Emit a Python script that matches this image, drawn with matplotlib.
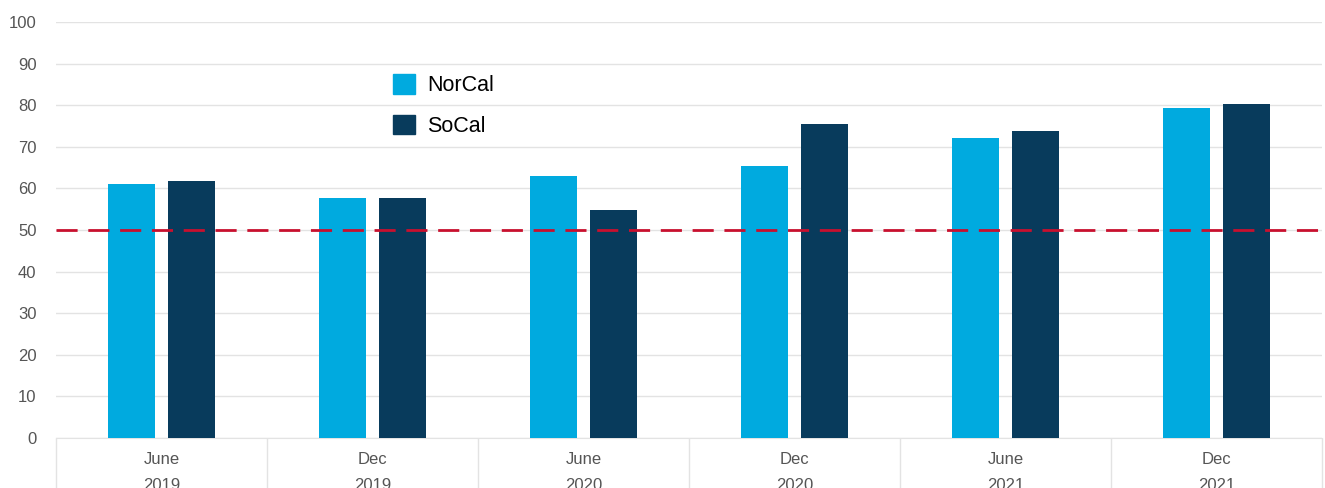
import numpy as np
import matplotlib.pyplot as plt
from matplotlib.patches import Patch

plt.rcParams['font.family'] = ['Liberation Sans', 'DejaVu Sans']

periods = ['June\n2019', 'Dec\n2019', 'June\n2020', 'Dec\n2020', 'June\n2021', 'Dec\n2021']
norcal = [61.1, 57.6, 63.1, 65.5, 72.0, 79.3]
socal = [61.8, 57.8, 54.7, 75.4, 73.7, 80.3]
threshold = 50

col_nor = '#00aadf'
col_so = '#083b5c'
grid_col = '#e3e3e3'
text_col = '#555555'

fig = plt.figure(figsize=(13.25, 4.88), dpi=100)
ax = fig.add_axes([56 / 1325, 1 - 438 / 488, (1322 - 56) / 1325, (438 - 22) / 488])

x = np.arange(len(periods))
w = 0.223
off = 0.143
ax.bar(x - off, norcal, w, color=col_nor, zorder=3)
ax.bar(x + off, socal, w, color=col_so, zorder=3)

# 50 reference line
ax.axhline(threshold, color='#c8102e', lw=2, dashes=(7.6, 3.85), zorder=4)

ax.set_xlim(-0.5, len(periods) - 0.5)
ax.set_ylim(0, 100)
ax.set_yticks(range(0, 101, 10))
ax.yaxis.grid(True, color=grid_col, lw=1)
ax.set_axisbelow(True)

for s in ['left', 'right', 'top']:
    ax.spines[s].set_visible(False)
ax.spines['bottom'].set_color(grid_col)

ax.set_xticks(x)
ax.set_xticklabels(periods, linespacing=1.95)
ax.set_xticks(np.arange(-0.5, len(periods)), minor=True)
ax.tick_params(axis='x', which='major', length=0, pad=10, labelsize=12, labelcolor=text_col)
ax.tick_params(axis='x', which='minor', length=60, color=grid_col, width=1)
ax.tick_params(axis='y', length=0, pad=14, labelsize=12, labelcolor=text_col)

handles = [Patch(color=col_nor, label='NorCal'), Patch(color=col_so, label='SoCal')]
ax.legend(handles=handles, loc='upper left', bbox_to_anchor=(374 / 1325, 1 - 55 / 488),
          bbox_transform=fig.transFigure, frameon=False, fontsize=15.5,
          handlelength=1.0, handleheight=1.0, labelspacing=0.86, handletextpad=0.56)

fig.savefig('out.png', dpi=100)
